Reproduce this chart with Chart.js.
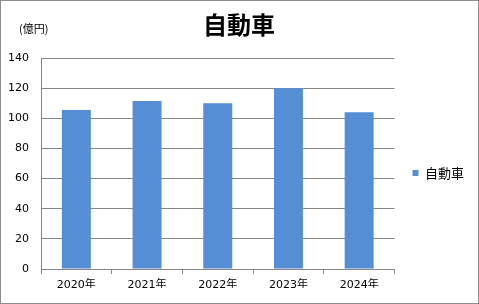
<!DOCTYPE html>
<html>
<head>
<meta charset="utf-8">
<script src="https://cdn.jsdelivr.net/npm/chart.js@4/dist/chart.umd.min.js"></script>
<style>
  html, body { margin: 0; padding: 0; background: #fff; }
  #wrap { width: 477px; height: 302px; border: 1px solid #8c8c8c; position: relative; }
</style>
</head>
<body>
<div id="wrap"><canvas id="chart" width="477" height="302"></canvas></div>
<script>
// ── Data ──────────────────────────────────────────────────────────────────────
const years  = ["2020年", "2021年", "2022年", "2023年", "2024年"];
const sales  = [105.5, 111.5, 110, 120, 104];
const yTicks = [0, 20, 40, 60, 80, 100, 120, 140];

const FONT = "'DejaVu Sans', 'Noto Sans CJK JP', sans-serif";
const JP   = "'Noto Sans CJK JP', 'DejaVu Sans', sans-serif";

// title and unit label, drawn on top of the canvas
const headerText = {
  id: "headerText",
  afterDraw(chart) {
    const ctx = chart.ctx;
    ctx.save();
    ctx.fillStyle = "#000";
    ctx.textBaseline = "middle";
    ctx.textAlign = "center";
    ctx.font = "bold 24px " + JP;
    ctx.fillText("自動車", 238, 24);
    ctx.textAlign = "left";
    ctx.font = "11px " + JP;
    ctx.fillText("(億円)", 18, 28);
    ctx.restore();
  },
};

new Chart(document.getElementById("chart"), {
  type: "bar",
  data: {
    labels: years,
    datasets: [{
      label: "自動車",
      data: sales,
      backgroundColor: "#558ed5",
      categoryPercentage: 0.41,
      barPercentage: 1.0,
    }],
  },
  options: {
    responsive: false,
    animation: false,
    layout: { padding: { top: 57, left: 0, right: 4, bottom: 15 } },
    plugins: {
      title: { display: false },
      tooltip: { enabled: false },
      legend: {
        position: "right",
        labels: {
          font: { family: JP, size: 13 },
          color: "#000",
          boxWidth: 6,
          boxHeight: 6,
          padding: 18,
        },
      },
    },
    scales: {
      x: {
        afterFit: s => { s.height = 19; },
        grid: { display: true, drawOnChartArea: false, offset: true, tickLength: 5, color: "#868686" },
        border: { color: "#868686" },
        ticks: { font: { family: FONT, size: 11 }, color: "#000", padding: 5 },
      },
      y: {
        min: 0, max: 140,
        afterBuildTicks: s => { s.ticks = yTicks.map(v => ({ value: v })); },
        afterFit: s => { s.width = 40; },
        grid: { color: "#868686", drawTicks: false },
        border: { color: "#868686" },
        ticks: { font: { family: FONT, size: 11 }, color: "#000", padding: 12 },
      },
    },
  },
  plugins: [headerText],
});
</script>
</body>
</html>
